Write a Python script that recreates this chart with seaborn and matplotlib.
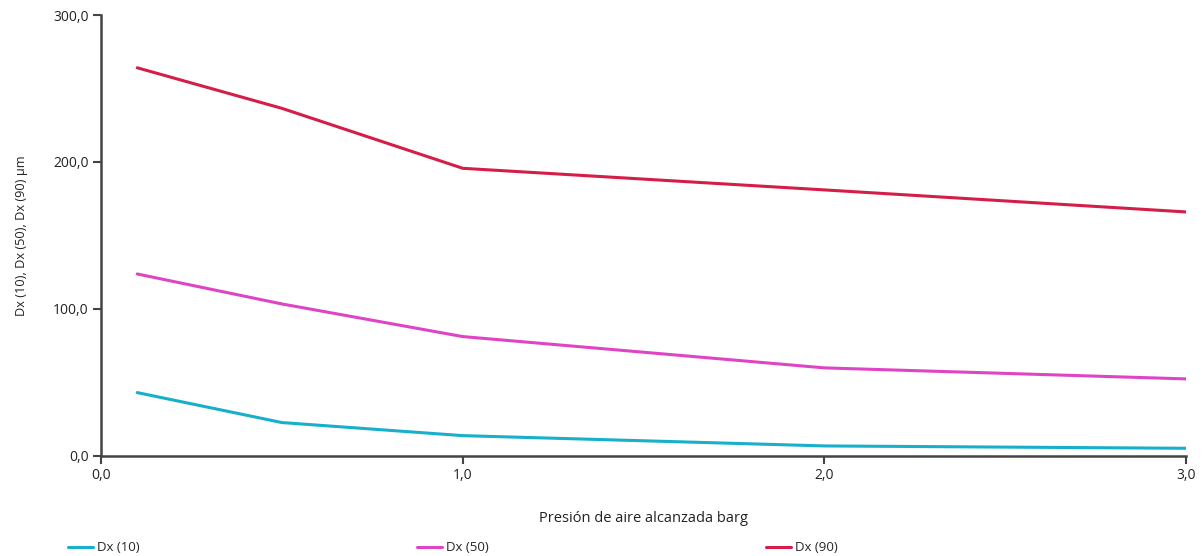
import pandas as pd
import matplotlib.pyplot as plt
import seaborn as sns

# data
presion = [0.1, 0.5, 1.0, 2.0, 3.0]
dx10 = [43.1, 22.7, 13.8, 6.8, 5.2]
dx50 = [123.8, 103.4, 81.2, 59.9, 52.4]
dx90 = [264.1, 236.5, 195.7, 181.0, 166.0]
series_names = ['Dx (10)', 'Dx (50)', 'Dx (90)']
x_ticks = [0, 1, 2, 3]
x_tick_labels = ['0,0', '1,0', '2,0', '3,0']
y_ticks = [0, 100, 200, 300]
y_tick_labels = ['0,0', '100,0', '200,0', '300,0']

colors = ['#17AFC9', '#DE45C4', '#D41E48']

df = pd.concat([
    pd.DataFrame({'x': presion, 'y': vals, 'serie': name})
    for name, vals in zip(series_names, [dx10, dx50, dx90])
])

sns.set_style("white")
plt.rcParams['font.family'] = ['Open Sans', 'DejaVu Sans']

fig = plt.figure(figsize=(12.03, 5.56), dpi=100)
ax = fig.add_axes([0.084, 0.18, 0.902, 0.793])

sns.lineplot(data=df, x='x', y='y', hue='serie', palette=colors, linewidth=2.2, ax=ax, legend=True)

ax.set_xlim(0, 3)
ax.set_ylim(0, 300)
ax.set_xticks(x_ticks)
ax.set_xticklabels(x_tick_labels, fontsize=10, color='#222222')
ax.set_yticks(y_ticks)
ax.set_yticklabels(y_tick_labels, fontsize=10, color='#222222')
ax.tick_params(axis='both', direction='out', length=6, width=1.5, color='#444444', pad=3,
               bottom=True, left=True)
for side in ['top', 'right']:
    ax.spines[side].set_visible(False)
for side in ['left', 'bottom']:
    ax.spines[side].set_color('#444444')
    ax.spines[side].set_linewidth(1.8)

ax.set_xlabel('Presión de aire alcanzada barg', fontsize=10.5, color='#222222', labelpad=20)
ax.set_ylabel('Dx (10), Dx (50), Dx (90) µm', fontsize=9.2, color='#222222', labelpad=18)

handles, labels = ax.get_legend_handles_labels()
ax.get_legend().remove()
fig.legend(handles, labels, loc='lower left', bbox_to_anchor=(0.047, -0.018), ncol=3,
           frameon=False, fontsize=9.5, handlelength=1.9, handletextpad=0.3,
           columnspacing=21.0)

fig.savefig('out.png', dpi=100)
